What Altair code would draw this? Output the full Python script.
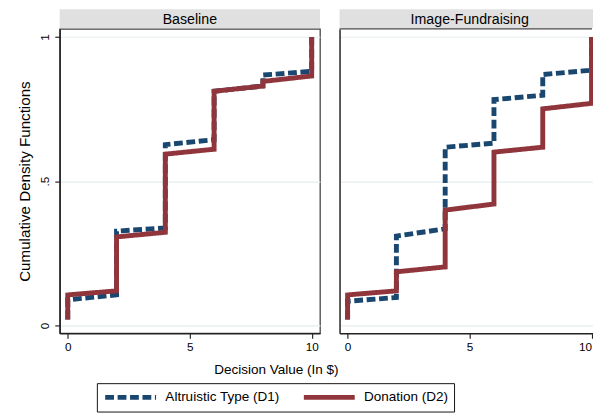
import altair as alt
import pandas as pd

# ---- data ----
panels = ["Baseline", "Image-Fundraising"]
series = ["Altruistic Type (D1)", "Donation (D2)"]
x_steps = [0, 0, 2, 2, 4, 4, 6, 6, 8, 8, 10, 10]
baseline_d1 = [0.021, 0.089, 0.106, 0.327, 0.338, 0.627, 0.644, 0.812, 0.830, 0.868, 0.881, 1.0]
baseline_d2 = [0.021, 0.106, 0.120, 0.307, 0.323, 0.594, 0.611, 0.812, 0.830, 0.846, 0.865, 1.0]
image_d1 = [0.021, 0.084, 0.097, 0.310, 0.335, 0.618, 0.632, 0.783, 0.798, 0.870, 0.885, 1.0]
image_d2 = [0.021, 0.106, 0.120, 0.186, 0.203, 0.400, 0.421, 0.601, 0.618, 0.751, 0.770, 1.0]
y_ticks = [0, 0.5, 1]
x_ticks = [0, 5, 10]

FONT = "Liberation Sans"
BLUE = "#1a476f"
RED = "#90353b"
W_L, W_R, H, HH = 266, 259, 311, 19

rows = []
for panel, d1, d2 in [(panels[0], baseline_d1, baseline_d2), (panels[1], image_d1, image_d2)]:
    for s, vals in zip(series, [d1, d2]):
        for i, (xv, yv) in enumerate(zip(x_steps, vals)):
            rows.append({"panel": panel, "series": s, "step": i, "x": xv, "y": yv})
df = pd.DataFrame(rows)

leg = alt.Legend(
    title=None, orient="none", legendX=38, legendY=382, direction="horizontal",
    strokeColor="#111", padding=6, symbolType="stroke", symbolSize=2704, clipHeight=17,
    labelOffset=7, gridAlign="each",
    symbolStrokeWidth=5, labelFont=FONT, labelFontSize=13.8, labelColor="#000",
    columnPadding=22,
)
color_enc = alt.Color("series:N", scale=alt.Scale(domain=series, range=[BLUE, RED]), legend=leg)
dash_enc = alt.StrokeDash("series:N", scale=alt.Scale(domain=series, range=[[9, 3.7], [1, 0]]), legend=leg)


def header(name, width):
    base = alt.Chart(pd.DataFrame({"t": [name]}))
    rect = base.mark_rect(color="#e0e0e0").encode(
        x=alt.value(0), x2=alt.value(width), y=alt.value(0), y2=alt.value(HH))
    txt = base.mark_text(font=FONT, fontSize=14.5, color="#000", baseline="alphabetic").encode(
        text="t:N", x=alt.value(133), y=alt.value(15))
    return alt.layer(rect, txt).properties(
        width=width, height=HH, view=alt.ViewBackground(strokeOpacity=0, strokeWidth=0))


def plot(name, width, xmax, first):
    sub = df[df.panel == name]
    xs = alt.Scale(domain=[-0.33, xmax], nice=False, zero=False)
    ys = alt.Scale(domain=[-0.027, 1.028], nice=False, zero=False)
    xa = dict(values=x_ticks, grid=False, tickSize=5, tickColor="#222", tickWidth=1.2,
              domainColor="#222", domainWidth=1.5, labelFontSize=12, labelPadding=4,
              labelFlush=3)
    if first:
        xa.update(title="Decision Value (In $)", titleX=221, titleY=41,
                  titleBaseline="alphabetic", titleFontSize=13.8)
    ya = dict(values=y_ticks, grid=True, gridColor="#e6eef0", gridWidth=1.2,
              domainColor="#222", domainWidth=1.5)
    if first:
        ya.update(ticks=True, tickSize=5, tickColor="#222", tickWidth=1.2,
                  labels=True, labelAngle=270, labelAlign="center", labelBaseline="alphabetic",
                  labelPadding=6, labelFontSize=12,
                  labelExpr="datum.value == 0.5 ? '.5' : (datum.value == 1 ? '1' : '0')",
                  title="Cumulative Density Functions", titleX=-31, titleBaseline="alphabetic",
                  titleFontSize=15.5)
    else:
        ya.update(ticks=False, labels=False)
    line = alt.Chart(sub).mark_line(strokeWidth=5, strokeCap="butt", strokeJoin="miter", clip=True).encode(
        x=alt.X("x:Q", scale=xs, axis=alt.Axis(**xa), title=None if not first else "Decision Value (In $)"),
        y=alt.Y("y:Q", scale=ys, axis=alt.Axis(**ya), title=None if not first else "Cumulative Density Functions"),
        color=color_enc,
        strokeDash=dash_enc,
        order=alt.Order("step:Q"),
    )
    if first:
        return line.properties(width=width, height=H,
                               view=alt.ViewBackground(stroke="#444", strokeWidth=1.3))
    top = alt.Chart(pd.DataFrame({"k": [0]})).mark_rule(color="#444", strokeWidth=1.3).encode(
        x=alt.value(0), x2=alt.value(width - 1), y=alt.value(0))
    return alt.layer(line, top).properties(
        width=width, height=H, view=alt.ViewBackground(strokeOpacity=0, strokeWidth=0))


left = alt.vconcat(header(panels[0], W_L), plot(panels[0], W_L, 10.34, True), spacing=0)
right = alt.vconcat(header(panels[1], W_R), plot(panels[1], W_R, 10.06, False), spacing=0)

# the x-axis title of the left panel reaches past its right edge (to ~285 px);
# a negative spacing puts the second panel 10 px right of the first panel's frame
chart = alt.hconcat(left, right, spacing=-10).properties(
    padding={"left": 17, "top": 5, "right": 0, "bottom": 0}
).configure(font=FONT).configure_axis(
    labelFont=FONT, titleFont=FONT, labelColor="#000", titleColor="#000", titleFontWeight="normal"
)

chart.save("out.html", embed_options={"renderer": "svg", "actions": False})
